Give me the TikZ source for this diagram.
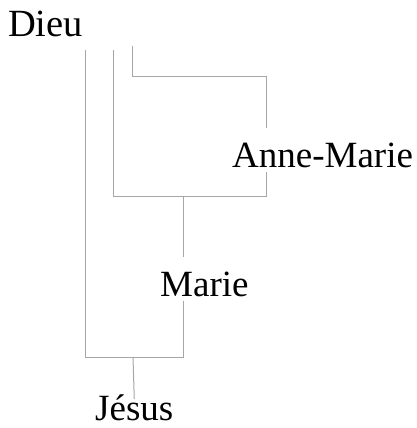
\documentclass[tikz,border=0pt]{standalone}
\usepackage{fontspec}
\setmainfont{Liberation Serif}
\begin{document}
\begin{tikzpicture}[x=1pt,y=-1pt,
  person/.style={inner sep=0pt,anchor=base west,text height=39pt,text depth=5pt,
    font=\fontsize{37}{44}\selectfont},
  link/.style={draw=gray!70,line width=1pt}]
\useasboundingbox (0,0) rectangle (416,428);
\node[person,font=\fontsize{38.5}{44}\selectfont] (Dieu) at (8,37) {Dieu};
\node[person] (AM) at (232,167) {Anne-Marie};
\node[person] (Marie) at (160,296) {Marie};
\node[person,text height=21pt,text depth=3pt] (Jesus) at (95,420) {Jésus};
% Dieu -> Anne-Marie
\coordinate (dA) at (132,46);
\coordinate (amx) at (266,76);
\draw[link] (dA) |- (amx) -- (amx |- AM.north);
% Dieu + Anne-Marie -> Marie
\coordinate (dM) at (113,50);
\coordinate (mr) at (266,196);
\coordinate (mm) at (183,196);
\draw[link] (dM) |- (mr) -- (mr |- AM.south);
\draw[link] (mm) -- (mm |- Marie.north);
% Dieu + Marie -> Jesus
\coordinate (dJ) at (85,50);
\coordinate (jr) at (183,357);
\coordinate (jm) at (133,357);
\draw[link] (dJ) |- (jr) -- (jr |- Marie.south);
\draw[link] (jm) -- (Jesus.north);
\end{tikzpicture}
\end{document}
